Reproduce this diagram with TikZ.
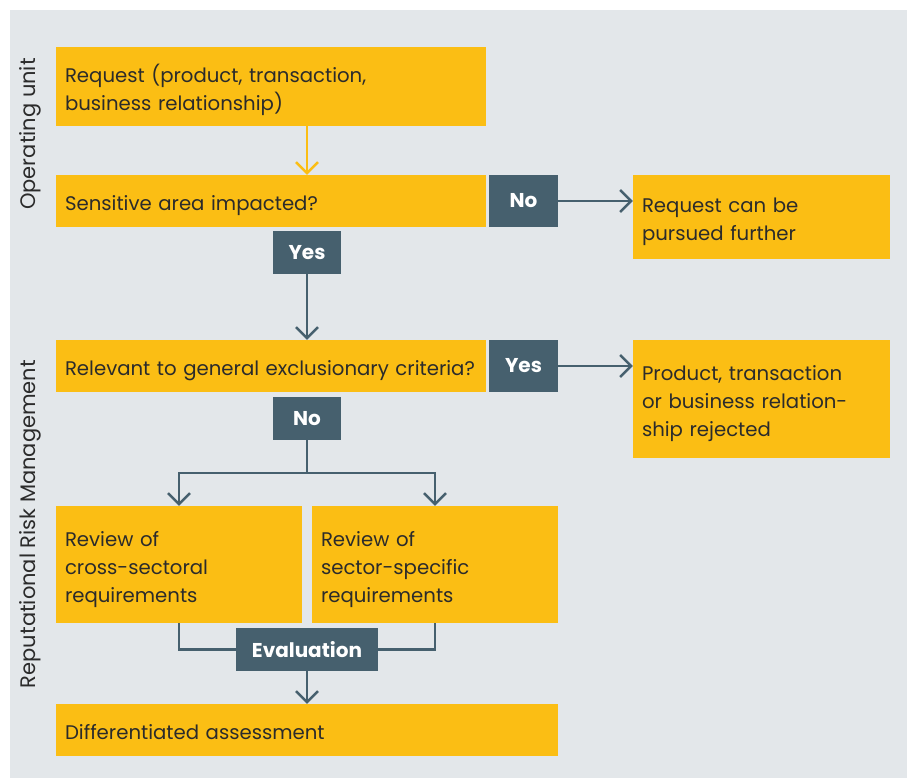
\documentclass[tikz,border=0pt]{standalone}
\usepackage{fontspec}
\setmainfont{Poppins}
\usetikzlibrary{arrows.meta,calc}
\definecolor{bgc}{HTML}{E3E7EA}
\definecolor{ylw}{HTML}{FBBE14}
\definecolor{slate}{HTML}{46606E}
\definecolor{txt}{HTML}{2B2B2B}
\newcommand{\lowtxt}[1]{\raisebox{-4pt}[\height][\depth]{\begin{tabular}{@{}l@{}}#1\end{tabular}}}
\tikzset{
  ybox/.style={fill=ylw, text=txt, inner xsep=9pt, inner ysep=0pt, align=left,
    font=\fontsize{19.7}{28}\selectfont, anchor=center},
  lab/.style={fill=slate, text=white, inner sep=0pt, align=center,
    font=\fontsize{20}{22}\selectfont\bfseries, anchor=center},
  conn/.style={draw=slate, line width=2.4pt, -{Straight Barb[length=11pt,width=22pt,line width=2.4pt]}},
  yconn/.style={draw=ylw, line width=2.4pt, -{Straight Barb[length=11pt,width=22pt,line width=2.4pt]}},
  plain/.style={draw=slate, line width=2.4pt},
  side/.style={text=txt, rotate=90, font=\fontsize{21}{24}\selectfont, anchor=center}
}
\begin{document}
\begin{tikzpicture}[x=1pt,y=-1pt]
\useasboundingbox (0,0) rectangle (912,783);
\fill[white] (0,0) rectangle (912,783);
\fill[bgc] (10,10) rectangle (907,778);
\node[ybox, minimum height=79pt, text width=412pt] (req) at (271,86.5) {\lowtxt{Request (product, transaction,\\business relationship)}};
\node[ybox, minimum height=52pt, text width=412pt] (sens) at (271,201) {\lowtxt{Sensitive area impacted?}};
\node[lab, minimum width=69pt, minimum height=52pt] (no1) at (523.5,201) {No};
\node[ybox, minimum height=84pt, text width=239pt] (pursue) at (761.5,217) {\lowtxt{Request can be\\pursued further}};
\node[lab, minimum width=68pt, minimum height=43pt] (yes1) at (307,252.5) {Yes};
\node[ybox, minimum height=52pt, text width=412pt] (rel) at (271,366) {\lowtxt{Relevant to general exclusionary criteria?}};
\node[lab, minimum width=69pt, minimum height=52pt] (yes2) at (523.5,366) {Yes};
\node[ybox, minimum height=118pt, text width=239pt] (reject) at (761.5,399) {\lowtxt{Product, transaction\\or business relation-\\ship rejected}};
\node[lab, minimum width=68pt, minimum height=43pt] (no2) at (307,418.5) {No};
\node[ybox, minimum height=117pt, text width=228pt] (rev1) at (179,564.5) {\lowtxt{Review of\\cross-sectoral\\requirements}};
\node[ybox, minimum height=117pt, text width=228pt] (rev2) at (435,564.5) {\lowtxt{Review of\\sector-specific\\requirements}};
\node[lab, minimum width=142pt, minimum height=43pt] (eval) at (307,649.5) {Evaluation};
\node[ybox, minimum height=52pt, text width=484pt] (diff) at (307,730) {\lowtxt{Differentiated assessment}};
\node[side] (ou) at (30,134) {Operating unit};
\node[side] (rrm) at (30,524) {Reputational Risk Management};
\draw[yconn] (yes1.north |- req.south) -- (yes1.north |- sens.north);
\draw[conn] (no1.east) -- (no1.east -| pursue.west);
\draw[conn] (yes1.south) -- (yes1.south |- rel.north);
\draw[conn] (yes2.east) -- (yes2.east -| reject.west);
\draw[plain] (no2.south) -- ++(0,33) coordinate (fork);
\draw[conn] (fork) -| (rev1.north);
\draw[conn] (fork) -| (rev2.north);
\draw[plain] (rev1.south) |- (eval.west);
\draw[plain] (rev2.south) |- (eval.east);
\draw[conn] (eval.south) -- (diff.north);
\end{tikzpicture}
\end{document}
